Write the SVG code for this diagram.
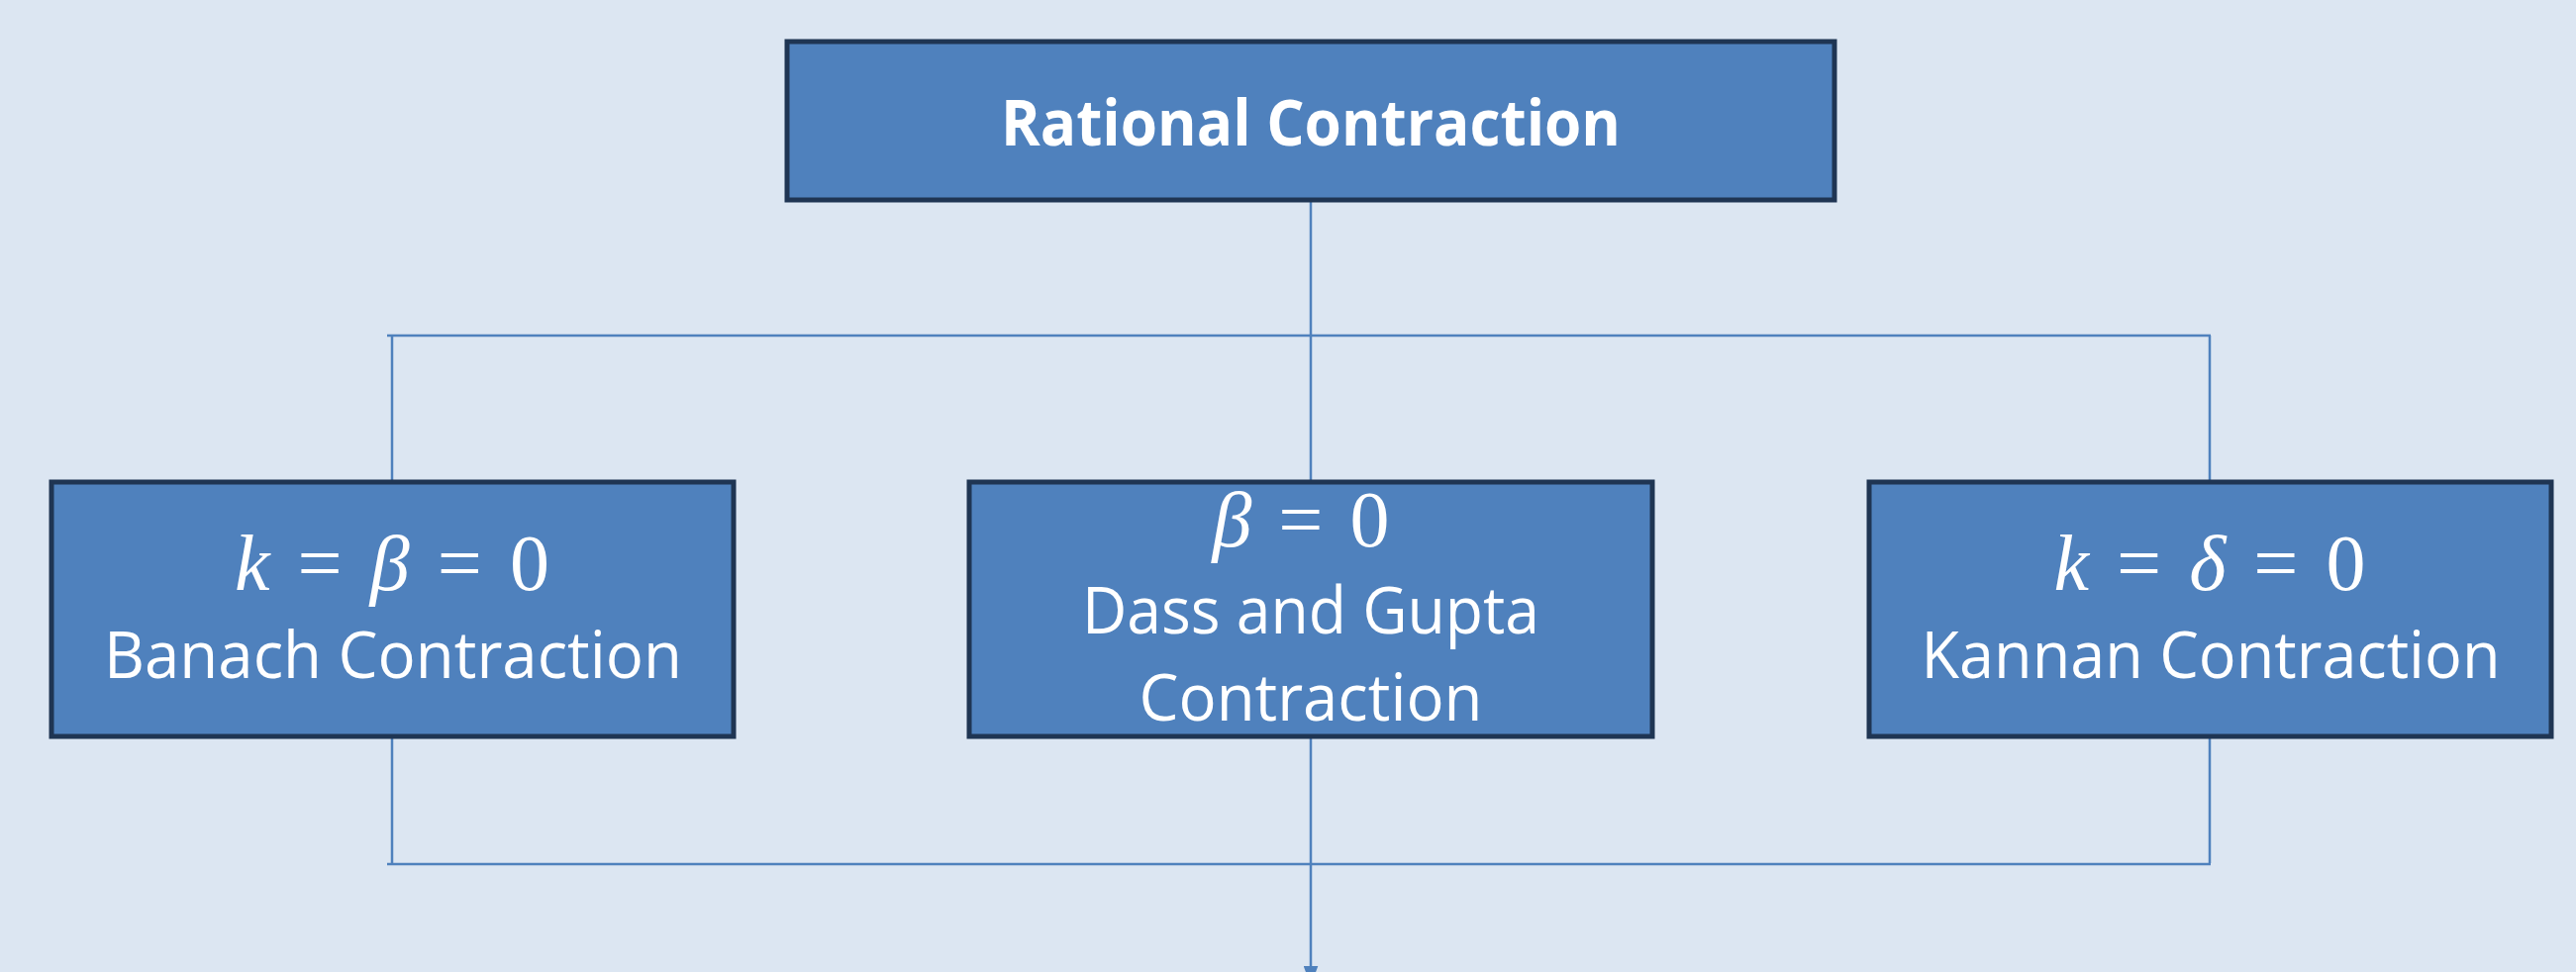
<svg xmlns="http://www.w3.org/2000/svg" width="2602" height="982" viewBox="0 0 2602 982">
<defs>
<style>
.box{fill:#4F81BD;stroke:#1F3553;stroke-width:5}
.t{font-family:"Open Sans","Liberation Sans",sans-serif;fill:#fff;font-size:65px;text-anchor:middle}
.b{font-weight:bold}
.m{font-family:"Liberation Serif","DejaVu Serif",serif;fill:#fff;font-size:80px;text-anchor:middle}
.i{font-style:italic}
.c{stroke:#4F81BD;stroke-width:2.5;fill:none}
</style>
<marker id="arr" markerWidth="8" markerHeight="6" refX="1" refY="3" orient="auto" markerUnits="strokeWidth">
<path d="M0,0 L8,3 L0,6 z" fill="#4F81BD"/>
</marker>
</defs>
<rect width="2602" height="982" fill="#DCE6F2"/>
<g id="connectors">
<line class="c" x1="1324" y1="203" x2="1324" y2="339"/>
<line class="c" x1="391" y1="339" x2="2233" y2="339"/>
<line class="c" x1="396" y1="339" x2="396" y2="486"/>
<line class="c" x1="1324" y1="339" x2="1324" y2="486"/>
<line class="c" x1="2232" y1="339" x2="2232" y2="486"/>
<line class="c" x1="396" y1="744" x2="396" y2="873"/>
<line class="c" x1="2232" y1="744" x2="2232" y2="872"/>
<line class="c" x1="391" y1="873" x2="2233" y2="873"/>
<line class="c" x1="1324" y1="744" x2="1324" y2="978" marker-end="url(#arr)"/>
</g>
<g id="rational">
<rect class="box" x="795" y="42" width="1058" height="160"/>
<text class="t b" x="1324" y="147" textLength="626" lengthAdjust="spacingAndGlyphs">Rational Contraction</text>
</g>
<g id="banach">
<rect class="box" x="52" y="487" width="689" height="257"/>
<text class="m" x="396" y="596" textLength="318"><tspan class="i">k</tspan> = <tspan class="i">β</tspan> = 0</text>
<text class="t" x="397" y="685" textLength="584" lengthAdjust="spacingAndGlyphs">Banach Contraction</text>
</g>
<g id="dass">
<rect class="box" x="979" y="487" width="690" height="257"/>
<text class="m" x="1314" y="552" textLength="179"><tspan class="i">β</tspan> = 0</text>
<text class="t" x="1324" y="640" textLength="462" lengthAdjust="spacingAndGlyphs">Dass and Gupta</text>
<text class="t" x="1324" y="728" textLength="347" lengthAdjust="spacingAndGlyphs">Contraction</text>
</g>
<g id="kannan">
<rect class="box" x="1888" y="487" width="689" height="257"/>
<text class="m" x="2232" y="596" textLength="315"><tspan class="i">k</tspan> = <tspan class="i">δ</tspan> = 0</text>
<text class="t" x="2233" y="685" textLength="585" lengthAdjust="spacingAndGlyphs">Kannan Contraction</text>
</g>
</svg>
